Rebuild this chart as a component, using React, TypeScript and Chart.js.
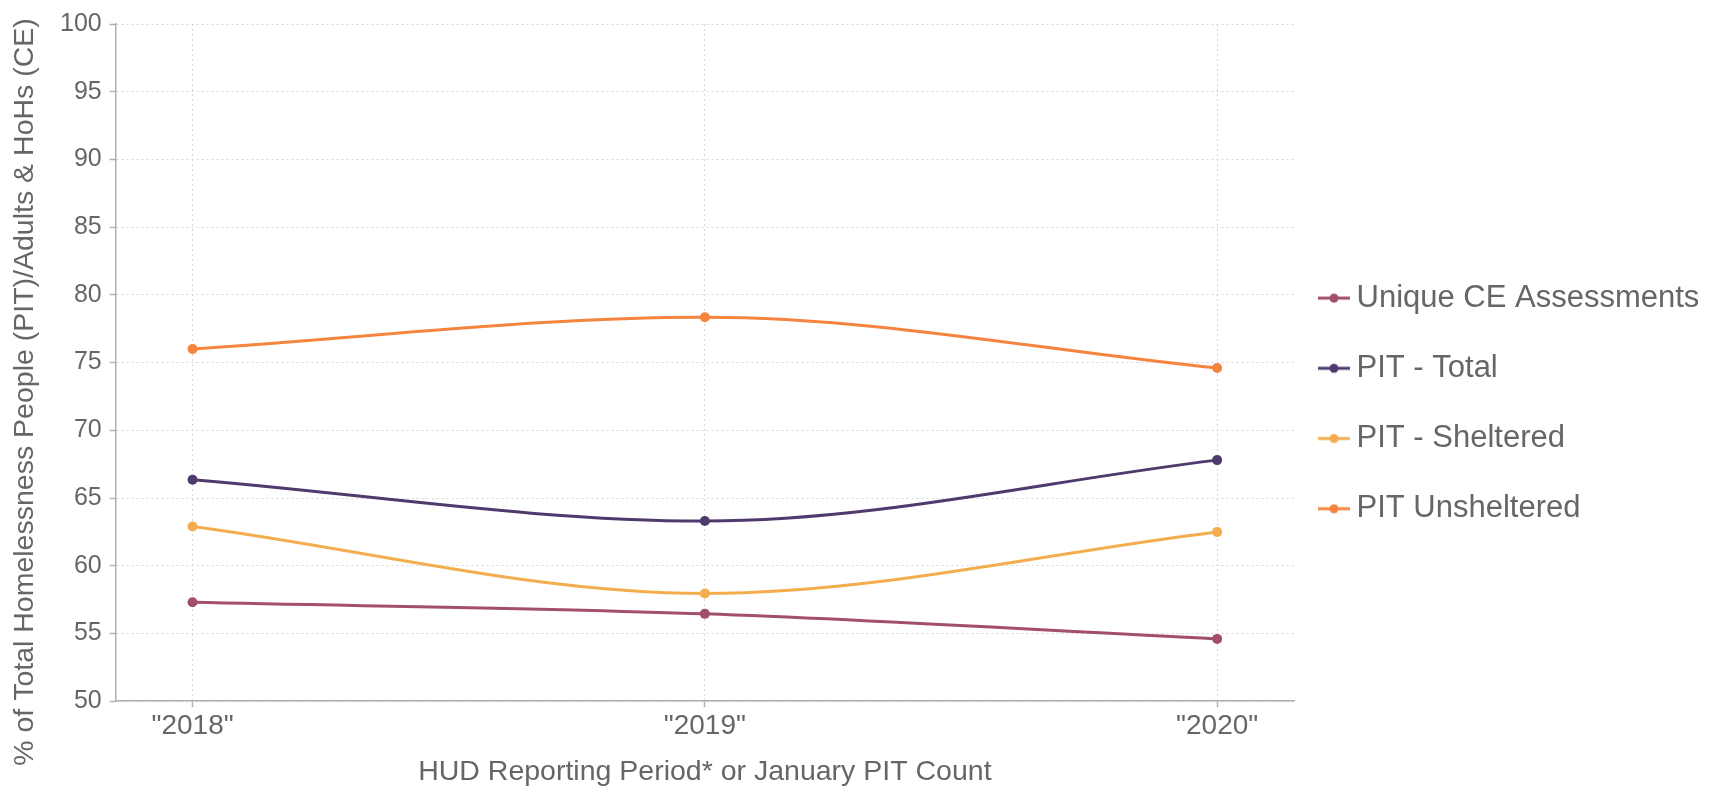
import React, { useEffect, useRef } from "react";
import { Chart, registerables } from "chart.js";

Chart.register(...registerables);

const years = [2018, 2019, 2020];
const seriesNames = ["Unique CE Assessments", "PIT - Total", "PIT - Sheltered", "PIT Unsheltered"];
const uniqueCE = [57.3, 56.45, 54.6];
const pitTotal = [66.35, 63.3, 67.8];
const pitSheltered = [62.9, 57.95, 62.5];
const pitUnsheltered = [76.0, 78.35, 74.6];
const seriesColors = ["#a24f6c", "#4e3a6d", "#f3ad4e", "#f5843f"];
const yTicks = [50, 55, 60, 65, 70, 75, 80, 85, 90, 95, 100];
const xTitleText = "HUD Reporting Period* or January PIT Count";
const yTitleText = "% of Total Homelessness People (PIT)/Adults & HoHs (CE)";

const FONT = "'Liberation Sans', Arial, Helvetica, sans-serif";
const TEXT = "#666666";
const GRID = "#d6d6d6";
const AXIS = "#b0b0b0";

function makeMarker(color: string): HTMLCanvasElement {
  const c = document.createElement("canvas");
  c.width = 32;
  c.height = 12;
  const ctx = c.getContext("2d")!;
  ctx.strokeStyle = color;
  ctx.lineWidth = 3;
  ctx.beginPath();
  ctx.moveTo(0, 6);
  ctx.lineTo(32, 6);
  ctx.stroke();
  ctx.fillStyle = color;
  ctx.beginPath();
  ctx.arc(16, 6, 4.5, 0, Math.PI * 2);
  ctx.fill();
  return c;
}

// y-axis title centred on the whole canvas height (as in the reference)
const yTitlePlugin = {
  id: "yTitleCentered",
  afterDraw(chart: any) {
    const ctx = chart.ctx;
    ctx.save();
    ctx.translate(25.5, chart.height / 2 - 2.5);
    ctx.rotate(-Math.PI / 2);
    ctx.font = `28.5px ${FONT}`;
    ctx.fillStyle = TEXT;
    ctx.textAlign = "center";
    ctx.textBaseline = "middle";
    ctx.fillText(yTitleText, 0, 0);
    ctx.restore();
  },
};

export default function App() {
  const ref = useRef<HTMLCanvasElement | null>(null);

  useEffect(() => {
    const values = [uniqueCE, pitTotal, pitSheltered, pitUnsheltered];
    const markers = seriesColors.map(makeMarker);
    const chart = new Chart(ref.current!, {
      type: "line",
      data: {
        datasets: seriesNames.map((name, i) => ({
          label: name,
          data: years.map((yr, j) => ({ x: yr, y: values[i][j] })),
          borderColor: seriesColors[i],
          backgroundColor: seriesColors[i],
          borderWidth: 3,
          pointRadius: 5,
          pointBorderWidth: 0,
          pointBackgroundColor: seriesColors[i],
          cubicInterpolationMode: "monotone" as const,
          fill: false,
        })),
      },
      plugins: [yTitlePlugin],
      options: {
        animation: false,
        responsive: true,
        maintainAspectRatio: false,
        layout: { padding: { top: 24, right: 3, bottom: 0, left: 52 } },
        plugins: {
          tooltip: { enabled: false },
          legend: {
            position: "right",
            align: "center",
            labels: {
              usePointStyle: true,
              pointStyleWidth: 14,
              boxWidth: 14,
              padding: 33,
              color: TEXT,
              font: { family: FONT, size: 31 },
              generateLabels: (ch: any) =>
                ch.data.datasets.map((ds: any, i: number) => ({
                  text: [ds.label],
                  fillStyle: seriesColors[i],
                  strokeStyle: seriesColors[i],
                  fontColor: TEXT,
                  pointStyle: markers[i],
                  lineWidth: 0,
                  hidden: false,
                  datasetIndex: i,
                })),
            },
          },
        },
        scales: {
          x: {
            type: "linear",
            min: 2017.85,
            max: 2020.15,
            afterBuildTicks: (axis: any) => {
              axis.ticks = years.map((v) => ({ value: v }));
            },
            ticks: {
              color: TEXT,
              font: { family: FONT, size: 28 },
              padding: 2,
              maxRotation: 0,
              callback: (v: any) => `"${v}"`,
            },
            grid: {
              color: GRID,
              tickLength: 6,
              tickColor: AXIS,
              tickBorderDash: [],
              tickWidth: 1.5,
            } as any,
            border: { display: true, color: AXIS, width: 1.5, dash: [2, 3] } as any,
            title: {
              display: true,
              text: xTitleText,
              color: TEXT,
              font: { family: FONT, size: 28.5 },
              padding: { top: 10, bottom: 0 },
            },
          },
          y: {
            type: "linear",
            min: 50,
            max: 100,
            afterBuildTicks: (axis: any) => {
              axis.ticks = yTicks.map((v) => ({ value: v }));
            },
            ticks: {
              color: TEXT,
              font: { family: FONT, size: 25 },
              padding: 8,
            },
            grid: {
              color: GRID,
              tickLength: 6,
              tickColor: AXIS,
              tickBorderDash: [],
              tickWidth: 1.5,
            } as any,
            border: { display: true, color: AXIS, width: 1.5, dash: [2, 3] } as any,
            title: { display: false },
          },
        },
      } as any,
    });
    return () => chart.destroy();
  }, []);

  return (
    <div style={{ position: "fixed", left: 0, top: 0, width: 1711, height: 789, background: "#fff" }}>
      <canvas ref={ref} />
    </div>
  );
}
